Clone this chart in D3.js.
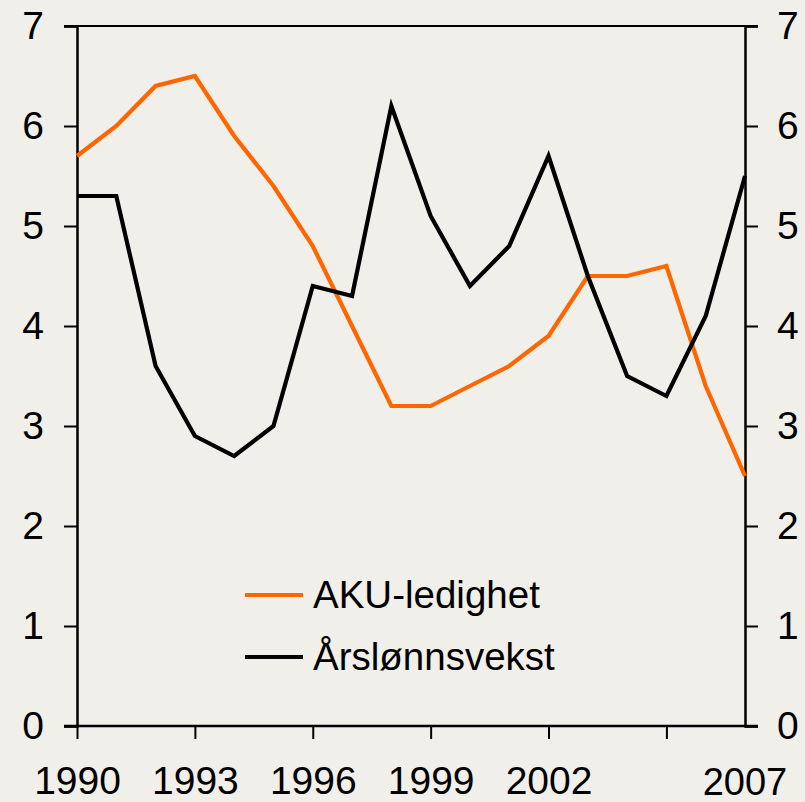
<!DOCTYPE html>
<html>
<head>
<meta charset="utf-8">
<script src="https://cdn.jsdelivr.net/npm/d3@7"></script>
<style>
  html, body { margin: 0; padding: 0; background: #f0efe9; }
  text { font-family: "Liberation Sans", Arial, sans-serif; fill: #000; }
</style>
</head>
<body>
<div id="chart"></div>
<script>
// years and the two series (per cent)
const years = d3.range(1990, 2008);
const akuLedighet = [5.7, 6.0, 6.4, 6.5, 5.9, 5.4, 4.8, 4.0, 3.2, 3.2, 3.4, 3.6, 3.9, 4.5, 4.5, 4.6, 3.4, 2.5];
const arslonnsvekst = [5.3, 5.3, 3.6, 2.9, 2.7, 3.0, 4.4, 4.3, 6.2, 5.1, 4.4, 4.8, 5.7, 4.5, 3.5, 3.3, 4.1, 5.5];
const yTicks = [0, 1, 2, 3, 4, 5, 6, 7];
const xTicks = [1990, 1993, 1996, 1999, 2002, 2005];
const xLabels = [1990, 1993, 1996, 1999, 2002];
const seriesNames = ["AKU-ledighet", "Årslønnsvekst"];
const seriesColors = ["#ff6600", "#000000"];

const width = 805, height = 802;
const svg = d3.select("#chart").append("svg")
    .attr("width", width)
    .attr("height", height)
    .style("background", "#f0efe9");

const x = d3.scaleLinear().domain([1990, 2007]).range([77, 745]);
const y = d3.scaleLinear().domain([0, 7]).range([726, 26]);

const fontSize = 39;

// left axis
svg.append("g")
    .attr("transform", `translate(${x(1990)},0)`)
    .call(d3.axisLeft(y).tickValues(yTicks).tickSize(13).tickPadding(20).tickFormat(d3.format("d")))
    .call(g => g.select(".domain").attr("stroke-width", 2.5))
    .call(g => g.selectAll(".tick line").attr("stroke-width", 2))
    .call(g => g.selectAll(".tick text").attr("font-size", fontSize).attr("font-family", "Liberation Sans, Arial, sans-serif"));

// right axis
svg.append("g")
    .attr("transform", `translate(${x(2007)},0)`)
    .call(d3.axisRight(y).tickValues(yTicks).tickSize(13).tickPadding(19).tickFormat(d3.format("d")))
    .call(g => g.select(".domain").attr("stroke-width", 2.5))
    .call(g => g.selectAll(".tick line").attr("stroke-width", 2))
    .call(g => g.selectAll(".tick text").attr("font-size", fontSize).attr("font-family", "Liberation Sans, Arial, sans-serif"));

// top border
svg.append("line")
    .attr("x1", x(1990) - 13).attr("x2", x(2007) + 13)
    .attr("y1", y(7)).attr("y2", y(7))
    .attr("stroke", "#000").attr("stroke-width", 2);

// bottom axis
svg.append("g")
    .attr("transform", `translate(0,${y(0)})`)
    .call(d3.axisBottom(x).tickValues(xTicks).tickSize(13).tickPadding(27)
        .tickFormat(d => xLabels.includes(d) ? d : ""))
    .call(g => g.select(".domain").remove())
    .call(g => g.selectAll(".tick line").attr("stroke-width", 2))
    .call(g => g.selectAll(".tick text").attr("font-size", fontSize).attr("font-family", "Liberation Sans, Arial, sans-serif"));

svg.append("line")
    .attr("x1", x(1990) - 13).attr("x2", x(2007) + 13)
    .attr("y1", y(0)).attr("y2", y(0))
    .attr("stroke", "#000").attr("stroke-width", 2.5);

// last year label sits under the right axis
svg.append("text")
    .attr("x", x(2007))
    .attr("y", 795)
    .attr("text-anchor", "middle")
    .attr("font-size", 38)
    .text(2007);

// lines
const line = d3.line().x((d, i) => x(years[i])).y(d => y(d));
[akuLedighet, arslonnsvekst].forEach((s, k) => {
    svg.append("path")
        .datum(s)
        .attr("d", line)
        .attr("fill", "none")
        .attr("stroke", seriesColors[k])
        .attr("stroke-width", 4.2)
        .attr("stroke-linejoin", "miter");
});

// legend
const legend = svg.append("g").attr("transform", "translate(245,595)");
seriesNames.forEach((name, k) => {
    const row = legend.append("g").attr("transform", `translate(0,${k * 62})`);
    row.append("line")
        .attr("x1", 0).attr("x2", 58)
        .attr("stroke", seriesColors[k])
        .attr("stroke-width", 4.2);
    row.append("text")
        .attr("x", 68)
        .attr("y", 13)
        .attr("font-size", 38.5)
        .text(name);
});
</script>
</body>
</html>
